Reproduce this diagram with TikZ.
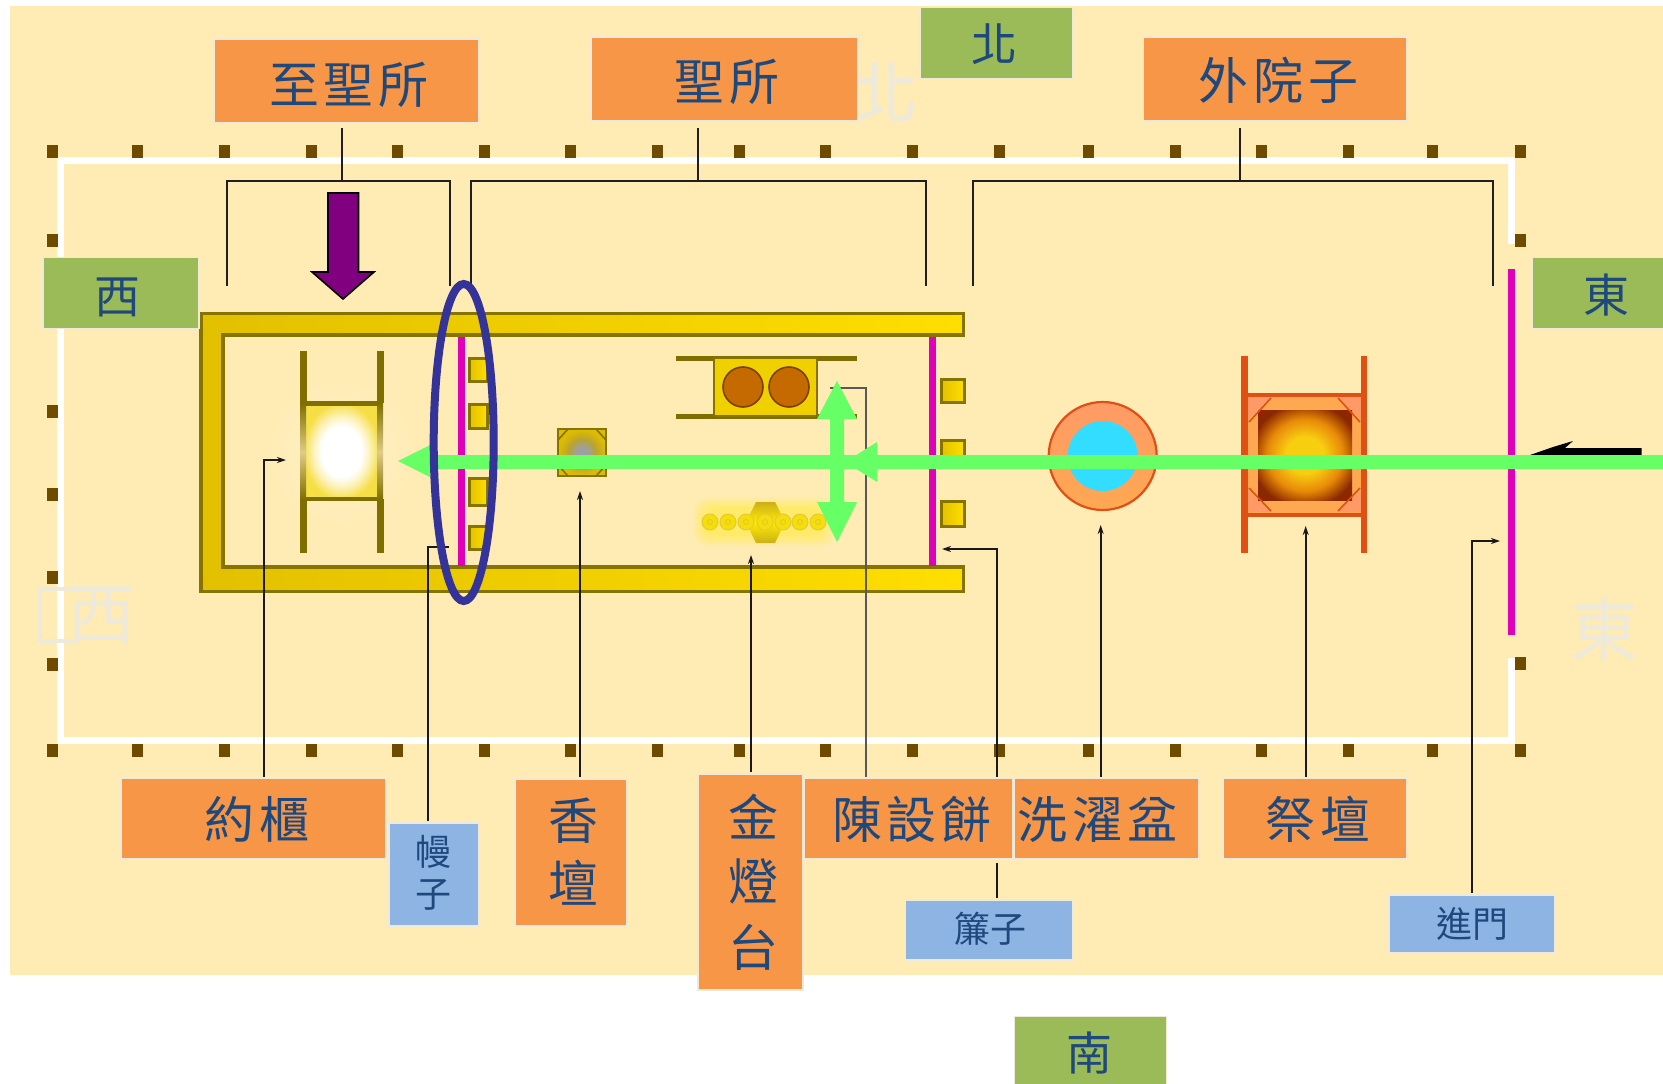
\documentclass[tikz,border=0pt]{standalone}
\usepackage{fontspec}
\usetikzlibrary{arrows.meta}
\newfontfamily\cjk[LetterSpace=10]{Noto Sans CJK TC}
\newfontfamily\cjkplain{Noto Sans CJK TC}
\definecolor{bgc}{HTML}{FFEBB3}
\definecolor{orangec}{HTML}{F79646}
\definecolor{bluec}{HTML}{8EB4E3}
\definecolor{greenc}{HTML}{9BBB59}
\definecolor{txtc}{HTML}{1F497D}
\definecolor{edgec}{HTML}{EFE9DA}
\definecolor{ghostc}{HTML}{EEEADB}
\definecolor{pillarc}{HTML}{6F4B00}
\definecolor{oliv}{HTML}{857500}
\definecolor{oliv2}{HTML}{7F6F00}
\definecolor{goldA}{HTML}{DDBB00}
\definecolor{goldB}{HTML}{FFDE00}
\definecolor{magc}{HTML}{E000B8}
\definecolor{arrowg}{HTML}{66FF66}
\definecolor{ellc}{HTML}{333399}
\definecolor{redo}{HTML}{E04F14}
\definecolor{arky}{HTML}{F6DE45}
\definecolor{breadc}{HTML}{C46A00}
\definecolor{breadb}{HTML}{7A4000}
\definecolor{cyanc}{HTML}{33DDFF}
\definecolor{altA}{HTML}{FFA852}
\definecolor{altB}{HTML}{FF9A66}
\definecolor{purp}{HTML}{800080}
\definecolor{fireA}{HTML}{F8CF10}
\definecolor{fireB}{HTML}{E88A08}
\definecolor{fireC}{HTML}{8B2800}
\pgfdeclareradialshading{arkshade}{\pgfpointorigin}{color(0bp)=(white);color(13bp)=(white);color(18bp)=(white!65!arky);color(25bp)=(arky);color(50bp)=(arky)}
\pgfdeclareradialshading{incshade}{\pgfpointorigin}{color(0bp)=(gray!75);color(6bp)=(gray!75);color(14bp)=(goldA!60!gray);color(24bp)=(goldA);color(50bp)=(goldA)}
\pgfdeclareradialshading{fireshade}{\pgfpointorigin}{color(0bp)=(fireA);color(10bp)=(fireA);color(20bp)=(fireB);color(29bp)=(fireC);color(50bp)=(fireC)}
\newcommand\tb[3]{\raisebox{\dimexpr-#2pt-.38em\relax}[0pt][0pt]{\makebox[0pt][c]{\kern\dimexpr #1pt*2\relax #3}}}
\tikzset{
  lab/.style={draw=edgec,line width=1.5pt,inner sep=0pt,outer sep=0pt,text=txtc,font=\cjk\fontsize{50}{54}\selectfont},
  obox/.style={lab,fill=orangec},
  gbox/.style={lab,fill=greenc,font=\cjkplain\fontsize{46}{50}\selectfont},
  bbox/.style={lab,fill=bluec,font=\cjkplain\fontsize{36}{40}\selectfont},
  ghost/.style={text=ghostc,inner sep=0pt,font=\cjkplain\fontsize{68}{72}\selectfont},
  postc/.style={fill=pillarc,minimum width=11pt,minimum height=13pt,inner sep=0pt},
  brk/.style={draw=black!88,line width=2pt},
  lead/.style={draw=black!90,line width=1.8pt},
  leadtip/.style={lead,-{Stealth[length=9pt,width=6pt]}},
  goldp/.style={draw=oliv,line width=3pt,left color=goldA!85!goldB,right color=goldB},
  veil/.style={draw=magc,line width=7pt},
  railc/.style={draw=oliv2,line width=6pt},
  redr/.style={draw=redo,line width=6pt},
}
\begin{document}
\begin{tikzpicture}[x=1pt,y=-1pt]
\useasboundingbox (0,0) rectangle (1663,1084);
\fill[white] (0,0) rectangle (1663,1084);
\fill[bgc] (10,6) rectangle (1663,975);
% court hangings
\draw[white,line width=7pt] (1511,244) -- (1511,160.5) -- (60.5,160.5) -- (60.5,740.5) -- (1511,740.5) -- (1511,658);
% posts
\foreach \x [count=\i] in {52.5,137.5,224,311,397.5,484,570,657,739.5,825,912.5,999.5,1088.5,1175,1261,1348,1432.5,1520}{
  \node[postc] (pt\i) at (\x,151) {};
  \node[postc] (pb\i) at (\x,750) {};
}
\foreach \y [count=\i] in {240,411,494,577,664}{\node[postc] (pl\i) at (52.5,\y) {};}
\node[postc] (pr1) at (1520,240) {};
\node[postc] (pr2) at (1520,663) {};
% ghost characters
\node[ghost] (gn) at (884,93) {北};
\node[ghost] (gw) at (101,616) {西};
\draw[ghostc,line width=4pt] (74,589) -- (40,589) -- (40,641) -- (74,641);
\node[ghost] (ge) at (1604,630) {東};
% building
\path[goldp,line width=3.5pt] (963.5,313.5) -- (201,313.5) -- (201,591.5) -- (963.5,591.5) -- (963.5,567) -- (223,567) -- (223,335) -- (963.5,335) -- cycle;
% veil and its pillars
\draw[veil] (461.7,337) -- (461.7,566);
\foreach \a/\b in {358/381,404/428,478/505,526/549}{\path[goldp] (469,\a) rectangle (487,\b);}
% door curtain and pillars
\draw[veil,line width=6.5pt] (932.7,337) -- (932.7,566);
\foreach \a/\b in {379/402,440/465,501/526}{\path[goldp] (941,\a) rectangle (964,\b);}
% gate
\draw[veil] (1511.7,269) -- (1511.7,635);
% ark
\shade[inner color=bgc!70!white,outer color=bgc] (341,452) circle (78);
\path[shading=arkshade] (303,403) rectangle (380,500);
\draw[railc,line width=5pt] (303,403) -- (380,403);
\draw[railc,line width=4.5pt] (303,499) -- (380,499);
\draw[railc,line width=7pt] (303,351) -- (303,403);
\draw[railc,line width=7pt] (303,499) -- (303,553);
\draw[railc,line width=7pt] (380,351) -- (380,403);
\draw[railc,line width=7pt] (380,499) -- (380,553);
\foreach \x in {303,380}{
  \shade[top color=oliv2,bottom color=oliv2!25!bgc] (\x-3,403) rectangle (\x+3,452);
  \shade[bottom color=oliv2,top color=oliv2!25!bgc] (\x-3,452) rectangle (\x+3,499);
}
% altar of incense
\path[shading=incshade,draw=oliv,line width=2.6pt] (558,429) rectangle (606,476);
\draw[oliv,line width=1.6pt] (558,440) -- (568,429) (606,440) -- (596,429) (558,465) -- (568,476) (606,465) -- (596,476);
% table of showbread
\draw[railc,line width=5pt] (676,358) -- (857,358);
\draw[railc,line width=5pt] (676,416) -- (857,416);
\path[draw=oliv,line width=2.5pt,fill=goldA!40!goldB] (714,358) rectangle (817,416);
\foreach \x in {743,789}{\path[fill=breadc,draw=breadb,line width=1.6pt] (\x,387) circle (20);}
% lampstand
\foreach \m in {12,10,8,6,4,2}{
  \fill[yellow,opacity=.08,rounded corners=12pt] (706-\m,510-\m) rectangle (822+\m,534+\m);
}
\path[top color=goldA!80!gray,bottom color=goldA!80!gray,middle color=goldB!60!yellow] (746,522) -- (756,502) -- (775,502) -- (785,522) -- (775,543) -- (756,543) -- cycle;
\foreach \x in {710,728,746,765,783,800,818}{
  \path[fill=yellow!65!goldA,draw=goldA!70!bgc,line width=1pt] (\x,522) circle (8);
  \draw[goldA!80!bgc,line width=.8pt] (\x,522) circle (2.5);
}
% laver
\path[top color=altB,bottom color=altA,draw=redo,line width=2.2pt] (1102.7,456) circle (54);
\fill[cyanc] (1102.7,456) circle (35);
% altar of burnt offering
\fill[altA] (1244,394) rectangle (1364,515);
\fill[altB] (1247,397) -- (1271,397) -- (1247,420) -- cycle;
\fill[altB] (1362,397) -- (1338,397) -- (1362,420) -- cycle;
\fill[altB] (1247,512) -- (1271,512) -- (1247,490) -- cycle;
\fill[altB] (1362,512) -- (1338,512) -- (1362,490) -- cycle;
\path[shading=fireshade] (1258,410) rectangle (1352,500);
\draw[redo,line width=1.6pt] (1249,422) -- (1271,398) (1360,422) -- (1338,398) (1249,488) -- (1271,511) (1360,488) -- (1338,511);
\draw[redr,line width=4pt] (1244,395) -- (1364,395) (1244,515) -- (1364,515);
\draw[redr,line width=7pt] (1244,356) -- (1244,553);
\draw[redr,line width=5.5pt] (1364,356) -- (1364,553);
% labels
\node[obox,minimum width=265pt,minimum height=84pt] (zs) at (346.5,81) {\tb{2.5}{3}{至聖所}};
\node[obox,minimum width=267pt,minimum height=84pt] (sh) at (724.5,79) {\tb{2.5}{2}{聖所}};
\node[obox,minimum width=263.5pt,minimum height=84pt] (wy) at (1275.2,79) {\tb{2.8}{1}{外院子}};
\node[gbox,minimum width=153pt,minimum height=71pt] (bei) at (996.5,43) {\tb{-2}{1}{北}};
\node[gbox,minimum width=156pt,minimum height=71pt] (xi) at (121,293) {\tb{-3.5}{3}{西}};
\node[gbox,minimum width=138pt,minimum height=71pt] (dong) at (1601.5,293) {\tb{4.5}{2}{東}};
\node[gbox,minimum width=152pt,minimum height=71pt] (nan) at (1090.5,1052) {\tb{-1.5}{1}{南}};
\node[obox,minimum width=265pt,minimum height=80pt] (yg) at (253.5,818.5) {\tb{3.5}{.5}{約櫃}};
\node[bbox,minimum width=90pt,minimum height=103pt] (mz) at (433.8,874.5) {\tb{0}{-22.5}{幔}\tb{0}{19.5}{子}};
\node[obox,minimum width=112pt,minimum height=147pt] (xt) at (571,852.5) {\tb{2}{-32.5}{香}\tb{2}{30.5}{壇}};
\node[obox,minimum width=105pt,minimum height=216pt] (jd) at (750.5,882) {\tb{2.5}{-65}{金}\tb{2.5}{-1}{燈}\tb{2.5}{65}{台}};
\node[obox,minimum width=209pt,minimum height=80pt] (cs) at (908.5,818.5) {\tb{3.5}{.5}{陳設餅}};
\node[obox,minimum width=184.4pt,minimum height=80pt] (xz) at (1106.8,818.5) {\tb{-9.8}{.5}{洗濯盆}};
\node[obox,minimum width=184.3pt,minimum height=80pt] (jt) at (1314.9,818.5) {\tb{3.5}{.5}{祭壇}};
\node[bbox,minimum width=166.7pt,minimum height=60pt] (lz) at (989,930) {\tb{1}{-1}{簾子}};
\node[bbox,minimum width=166pt,minimum height=58pt] (jm) at (1472,924) {\tb{.5}{0}{進門}};
% brackets
\coordinate (b1l) at (226.5,285.5); \coordinate (b1r) at (450,285.5); \coordinate (b1s) at (341.5,180.5);
\coordinate (b2l) at (471,285.5); \coordinate (b2r) at (925.6,285.5); \coordinate (b2s) at (698,180.5);
\coordinate (b3l) at (973,285.5); \coordinate (b3r) at (1493,285.5); \coordinate (b3s) at (1240,180.5);
\draw[brk] (b1l) |- (b1s) -| (b1r);
\draw[brk] (b2l) |- (b2s) -| (b2r);
\draw[brk] (b3l) |- (b3s) -| (b3r);
\draw[brk,shorten <=5pt] (zs.south -| b1s) -- (b1s);
\draw[brk,shorten <=7pt] (sh.south -| b2s) -- (b2s);
\draw[brk,shorten <=7pt] (wy.south -| b3s) -- (b3s);
% purple arrow
\path[fill=purp,draw=black,line width=1.6pt] (328,193) -- (358.5,193) -- (358.5,272) -- (374,272) -- (343,299) -- (312,272) -- (328,272) -- cycle;
% leaders
\coordinate (lyg) at (264,460); \coordinate (tyg) at (286,460);
\coordinate (lmz) at (428,547); \coordinate (tmz) at (449,547);
\coordinate (txt) at (580,491);
\coordinate (tjd) at (751,555);
\coordinate (lcs) at (866,388); \coordinate (tcs) at (830,388);
\coordinate (llz) at (996.7,549); \coordinate (tlz) at (942,549);
\coordinate (txz) at (1100.7,525);
\coordinate (tjt) at (1305.7,526);
\coordinate (ljm) at (1471.7,541); \coordinate (tjm) at (1500,541);
\draw[leadtip,shorten <=2pt] (yg.north -| lyg) -- (lyg) -- (tyg);
\draw[lead,shorten <=2pt] (mz.north -| lmz) -- (lmz) -- (tmz);
\draw[leadtip,shorten <=2pt] (xt.north -| txt) -- (txt);
\draw[leadtip,shorten <=2pt] (jd.north -| tjd) -- (tjd);
\draw[lead,draw=black!65,shorten <=2pt] (cs.north -| lcs) -- (lcs) -- (tcs);
\draw[leadtip,shorten <=2pt] (cs.north -| llz) -- (llz) -- (tlz);
\draw[lead,shorten <=2pt,shorten >=4pt] (lz.north -| llz) -- (cs.south -| llz);
\draw[leadtip,shorten <=2pt] (xz.north -| txz) -- (txz);
\draw[leadtip,shorten <=2pt] (jt.north -| tjt) -- (tjt);
\draw[leadtip,shorten <=2pt] (jm.north -| ljm) -- (ljm) -- (tjm);
% black arrow under the green line
\fill[black] (1641.7,448) -- (1565,448) -- (1573,441) -- (1553,447) -- (1530,455) -- (1641.7,456) -- cycle;
% green arrows
\fill[arrowg] (1663,455) -- (877,455) -- (877,442) -- (845,462) -- (877,482) -- (877,469) -- (1663,469) -- cycle;
\fill[arrowg] (877,455) rectangle (430,469);
\fill[arrowg] (430,445) -- (398,461) -- (430,477) -- cycle;
\fill[arrowg] (837,381) -- (857,419) -- (844,419) -- (844,502) -- (857,502) -- (837,542) -- (817,502) -- (830,502) -- (830,419) -- (817,419) -- cycle;
% blue ellipse
\draw[ellc,line width=8pt] (463.7,442.5) ellipse (30 and 158.5);
\end{tikzpicture}
\end{document}
